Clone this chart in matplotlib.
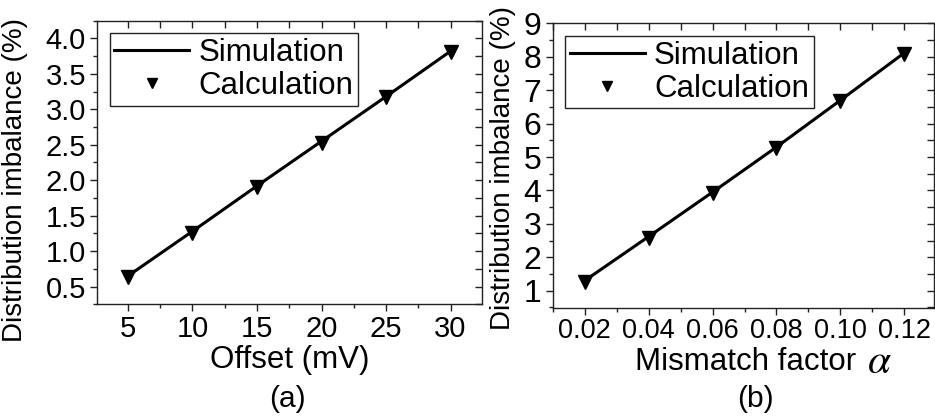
import matplotlib
matplotlib.use("Agg")
import matplotlib.pyplot as plt
from matplotlib.ticker import MultipleLocator, FormatStrFormatter

plt.rcParams['font.family'] = ['Liberation Sans', 'DejaVu Sans']
plt.rcParams['mathtext.fontset'] = 'stix'

# Panel (a) data
offset_mv = [5, 10, 15, 20, 25, 30]
imb_a_sim = [0.65, 1.28, 1.92, 2.55, 3.18, 3.82]
imb_a_calc = [0.63, 1.26, 1.90, 2.53, 3.17, 3.81]

# Panel (b) data
alpha_vals = [0.02, 0.04, 0.06, 0.08, 0.10, 0.12]
imb_b_sim = [1.30, 2.62, 3.95, 5.30, 6.70, 8.12]
imb_b_calc = [1.27, 2.58, 3.92, 5.27, 6.67, 8.10]

fig = plt.figure(figsize=(9.35, 4.19), dpi=100)

W, H = 935.0, 419.0
def axrect(l, r, t, b):
    return [l / W, (H - b) / H, (r - l) / W, (b - t) / H]

ax1 = fig.add_axes(axrect(97, 481.5, 20.7, 304.3))
ax2 = fig.add_axes(axrect(552.5, 934, 23.5, 308))

LAB = 22.5

def style(ax, xstep, ystep, xsize, ysize, xpad):
    for s in ax.spines.values():
        s.set_linewidth(1.0)
        s.set_color('#222222')
    ax.tick_params(axis='both', which='both', width=1.0, color='#222222')
    ax.tick_params(axis='x', labelsize=xsize, pad=xpad)
    ax.tick_params(axis='y', labelsize=ysize, pad=3)
    ax.tick_params(axis='both', which='major', length=5)
    ax.tick_params(axis='both', which='minor', length=3)
    ax.tick_params(axis='x', which='both', direction='out', top=False)
    ax.tick_params(axis='y', which='both', direction='out', right=False)
    sec_x = ax.secondary_xaxis('top')
    sec_x.xaxis.set_major_locator(MultipleLocator(xstep))
    sec_x.tick_params(direction='in', length=5, width=1.0, labeltop=False, color='#222222')
    sec_x.spines['top'].set_visible(False)
    sec_y = ax.secondary_yaxis('right')
    sec_y.yaxis.set_major_locator(MultipleLocator(ystep))
    sec_y.tick_params(direction='in', length=5, width=1.0, labelright=False, color='#222222')
    sec_y.spines['right'].set_visible(False)

legkw = dict(loc='upper left', fontsize=LAB, frameon=True, fancybox=False,
             edgecolor='#222222', framealpha=1, handlelength=2.4, handletextpad=0.3,
             borderpad=0.15, labelspacing=0.1, borderaxespad=0.4, markerscale=0.75)

# Panel (a)
ax1.plot(offset_mv, imb_a_sim, color='black', lw=2.2, label='Simulation')
ax1.plot(offset_mv, imb_a_calc, linestyle='none', marker='v', color='black', ms=10, label='Calculation')
ax1.set_xlim(2.6, 32.4)
ax1.set_ylim(0.25, 4.25)
ax1.xaxis.set_major_locator(MultipleLocator(5))
ax1.xaxis.set_minor_locator(MultipleLocator(2.5))
ax1.yaxis.set_major_locator(MultipleLocator(0.5))
ax1.yaxis.set_minor_locator(MultipleLocator(0.25))
ax1.yaxis.set_major_formatter(FormatStrFormatter('%.1f'))
style(ax1, 2.5, 0.25, 21, 21, 3)
ax1.set_xlabel('Offset (mV)', fontsize=LAB)
ax1.xaxis.label.set_va('center')
ax1.xaxis.set_label_coords(0.5, (304.3 - 360) / 283.6)
ax1.set_ylabel('Distribution imbalance (%)', fontsize=20)
ax1.yaxis.label.set_va('center')
ax1.yaxis.set_label_coords((15 - 97) / 384.5, (304.3 - 180) / 283.6)
leg1 = ax1.legend(**legkw)
leg1.get_frame().set_linewidth(1.0)
fig.text(287 / W, 1 - 399 / H, '(a)', fontsize=21.5, ha='center', va='center')

# Panel (b)
ax2.plot(alpha_vals, imb_b_sim, color='black', lw=2.2, label='Simulation')
ax2.plot(alpha_vals, imb_b_calc, linestyle='none', marker='v', color='black', ms=10, label='Calculation')
ax2.set_xlim(0.0099, 0.1293)
ax2.set_ylim(0.48, 9.0)
ax2.xaxis.set_major_locator(MultipleLocator(0.02))
ax2.xaxis.set_minor_locator(MultipleLocator(0.01))
ax2.xaxis.set_major_formatter(FormatStrFormatter('%.2f'))
ax2.yaxis.set_major_locator(MultipleLocator(1))
ax2.yaxis.set_minor_locator(MultipleLocator(0.5))
style(ax2, 0.01, 0.5, 19.5, 23, 2)
ax2.set_xlabel('Mismatch factor', fontsize=LAB)
ax2.xaxis.label.set_va('center')
ax2.xaxis.set_label_coords((746 - 552.5) / 381.5, (308 - 362) / 284.5)
fig.text(879 / W, 1 - 362 / H, r'$\alpha$', fontsize=30, ha='center', va='center')
ax2.set_ylabel('Distribution imbalance (%)', fontsize=20)
ax2.yaxis.label.set_va('center')
ax2.yaxis.set_label_coords((503 - 552.5) / 381.5, (308 - 168) / 284.5)
leg2 = ax2.legend(**legkw)
leg2.get_frame().set_linewidth(1.0)
fig.text(755 / W, 1 - 399 / H, '(b)', fontsize=21.5, ha='center', va='center')

fig.savefig('out.png', dpi=100)
